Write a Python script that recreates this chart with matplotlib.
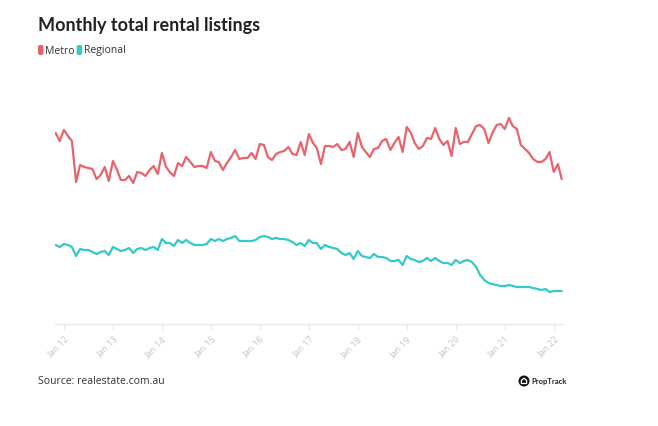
import matplotlib
matplotlib.use("Agg")
import matplotlib.pyplot as plt
import matplotlib.patches as mpatches
import pandas as pd
import numpy as np

# Monthly data, Nov 2011 - Mar 2022 (relative index units)
start_month = "2011-11-01"
metro = [191, 183, 194, 188, 183, 142, 159, 157, 156, 155, 145, 149, 157, 143, 163, 154, 144, 144,
         148, 141, 152, 151, 148, 154, 158, 150, 171, 157, 152, 148, 161, 158, 167, 162,
         157, 158, 158, 156, 172, 163, 162, 154, 161, 167, 174, 165, 166, 166, 171, 165,
         180, 179, 167, 164, 170, 172, 173, 177, 170, 169, 182, 169, 190, 181, 176, 160,
         178, 178, 177, 180, 174, 175, 182, 167, 191, 177, 172, 167, 175, 176, 183, 185,
         174, 181, 187, 172, 197, 191, 181, 175, 178, 186, 185, 196, 185, 179, 183, 168,
         196, 180, 182, 182, 190, 198, 199, 195, 181, 191, 199, 200, 195, 206, 198, 195,
         179, 175, 171, 165, 162, 162, 165, 172, 152, 160, 145]
regional = [79, 77, 80, 79, 77, 68, 75, 74, 74, 72, 70, 72, 73, 69, 77, 75, 73, 74,
            76, 71, 75, 76, 74, 76, 77, 74, 85, 81, 81, 78, 84, 81, 84, 81,
            79, 79, 79, 80, 85, 83, 85, 83, 85, 86, 88, 83, 83, 83, 83, 84,
            87, 88, 87, 85, 86, 85, 85, 84, 82, 79, 81, 78, 84, 81, 81, 75,
            79, 77, 76, 75, 71, 69, 71, 65, 73, 68, 67, 66, 70, 67, 67, 66,
            63, 63, 64, 59, 68, 65, 64, 62, 63, 66, 63, 66, 63, 61, 61, 59,
            64, 61, 63, 64, 62, 57, 49, 44, 41, 40, 39, 38, 38, 39, 38, 37,
            37, 37, 37, 36, 35, 34, 35, 32, 33, 33, 33]
years = list(range(2012, 2023))
tick_labels = [f"Jan {y % 100:02d}" for y in years]
series_names = ["Metro", "Regional"]
colors = ["#E8636C", "#33C9C8"]

dates = pd.date_range(start_month, periods=len(metro), freq="MS")

W, H = 658, 427
fig = plt.figure(figsize=(W / 100, H / 100), dpi=100)
fig.patch.set_facecolor("white")

left_px, right_px = 55, 563
bottom_px, top_px = 325, 80
ax = fig.add_axes([left_px / W, (H - bottom_px) / H, (right_px - left_px) / W, (bottom_px - top_px) / H])

ax.plot(dates, metro, color=colors[0], lw=1.6, solid_joinstyle="round", solid_capstyle="round")
ax.plot(dates, regional, color=colors[1], lw=1.6, solid_joinstyle="round", solid_capstyle="round")

ax.set_ylim(0, bottom_px - top_px)
ax.set_xlim(dates[0] - pd.Timedelta(days=5), dates[-1] + pd.Timedelta(days=10))

for s in ["top", "right", "left"]:
    ax.spines[s].set_visible(False)
ax.spines["bottom"].set_color("#e6e6e6")
ax.spines["bottom"].set_linewidth(0.8)
ax.set_yticks([])

tick_dates = [pd.Timestamp(f"{y}-01-01") for y in years]
ax.set_xticks(tick_dates)
ax.set_xticklabels(tick_labels, rotation=45, ha="right", va="top", rotation_mode="anchor",
                   fontsize=6.5, color="#c4c4c4", family="Open Sans")
ax.tick_params(axis="x", length=4, width=0.8, color="#e6e6e6", pad=3)

# Title
fig.text(38 / W, 1 - 26 / H, "Monthly total rental listings", fontsize=13, fontweight="bold",
         color="#222222", va="center", ha="left", family="Lato")

# Legend
leg_y = 1 - 51 / H
x = 38
for name, c in zip(series_names, colors):
    fig.patches.append(mpatches.FancyBboxPatch((x / W, (H - 56) / H), 5.5 / W, 10 / H,
                                               boxstyle="round,pad=0,rounding_size=0.004",
                                               transform=fig.transFigure, facecolor=c, edgecolor="none"))
    t = fig.text((x + 7) / W, leg_y, name, fontsize=7.5, color="#333333", va="center", ha="left",
                 family="Open Sans")
    fig.canvas.draw()
    bb = t.get_window_extent()
    x = bb.x1 + 2

# Source
fig.text(38 / W, 1 - 382 / H, "Source: realestate.com.au", fontsize=7.5, color="#333333",
         va="center", ha="left", family="Open Sans")

# PropTrack logo
cx, cy, r = 524, 382, 5.5
logo = mpatches.Ellipse((cx / W, 1 - cy / H), 2 * r / W, 2 * r / H, transform=fig.transFigure,
                        facecolor="#111111", edgecolor="none")
fig.patches.append(logo)
house = np.array([[-2.6, 2.5], [-2.6, -0.6], [0, -2.8], [2.6, -0.6], [2.6, 2.5]])
house_fig = [((cx + hx) / W, 1 - (cy + hy) / H) for hx, hy in house]
fig.patches.append(mpatches.Polygon(house_fig, closed=True, transform=fig.transFigure,
                                    facecolor="none", edgecolor="white", lw=0.9))
fig.text(531 / W, 1 - cy / H, "PropTrack", fontsize=5.5, fontweight="bold", color="#222222",
         va="center", ha="left", family="Lato")

fig.savefig("out.png", dpi=100, facecolor="white")
